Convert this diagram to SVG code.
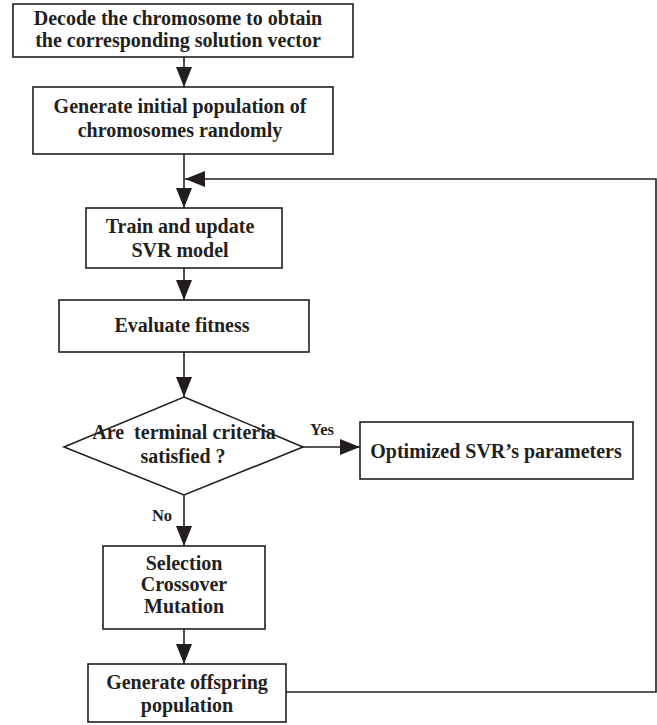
<svg xmlns="http://www.w3.org/2000/svg" width="657" height="725" viewBox="0 0 657 725">
<defs>
<style>
.box{fill:#fff;stroke:#231f20;stroke-width:1.6}
.t{font-family:"Liberation Serif","Times New Roman",serif;font-weight:bold;font-size:20px;fill:#231f20;text-anchor:middle;white-space:pre}
.s{font-family:"Liberation Serif","Times New Roman",serif;font-weight:bold;font-size:16.5px;fill:#231f20;text-anchor:middle}
.c{fill:none;stroke:#231f20;stroke-width:1.6}
</style>
<marker id="ah" viewBox="0 0 20 16" refX="20" refY="8" markerWidth="20" markerHeight="16" markerUnits="userSpaceOnUse" orient="auto">
<path d="M0,0 L20,8 L0,16 Z" fill="#231f20"/>
</marker>
</defs>
<rect width="657" height="725" fill="#fff"/>
<g id="connectors">
<path class="c" d="M184,57 V87" marker-end="url(#ah)"/>
<path class="c" d="M184,154 V208" marker-end="url(#ah)"/>
<path class="c" d="M184,268 V300" marker-end="url(#ah)"/>
<path class="c" d="M184,352 V397" marker-end="url(#ah)"/>
<path class="c" d="M303,447 H360" marker-end="url(#ah)"/>
<path class="c" d="M184,495 V546" marker-end="url(#ah)"/>
<path class="c" d="M184,629 V664" marker-end="url(#ah)"/>
<path class="c" d="M286,692 H656 V179 H185" marker-end="url(#ah)"/>
<text class="s" x="322" y="435">Yes</text>
<text class="s" x="162" y="521">No</text>
</g>
<g id="decode">
<rect class="box" x="13" y="4" width="340" height="53"/>
<text class="t" x="178" y="25">Decode the chromosome to obtain</text>
<text class="t" x="178" y="47">the corresponding solution vector</text>
</g>
<g id="init">
<rect class="box" x="33" y="87" width="300" height="67"/>
<text class="t" x="180" y="113">Generate initial population of</text>
<text class="t" x="180" y="137">chromosomes randomly</text>
</g>
<g id="train">
<rect class="box" x="86" y="208" width="196" height="60"/>
<text class="t" x="180" y="233">Train and update</text>
<text class="t" x="180" y="257">SVR model</text>
</g>
<g id="evaluate">
<rect class="box" x="59" y="300" width="250" height="52"/>
<text class="t" x="182" y="332">Evaluate fitness</text>
</g>
<g id="decision">
<polygon class="box" points="184,397 303,447 184,495 64,447"/>
<text class="t" x="184" y="439">Are  terminal criteria</text>
<text class="t" x="183" y="463">satisfied ?</text>
</g>
<g id="optimized">
<rect class="box" x="360" y="422" width="273" height="57"/>
<text class="t" x="496" y="458">Optimized SVR’s parameters</text>
</g>
<g id="genetic">
<rect class="box" x="103" y="546" width="162" height="83"/>
<text class="t" x="184" y="570">Selection</text>
<text class="t" x="184" y="591">Crossover</text>
<text class="t" x="184" y="613">Mutation</text>
</g>
<g id="offspring">
<rect class="box" x="88" y="664" width="198" height="58"/>
<text class="t" x="187" y="689">Generate offspring</text>
<text class="t" x="187" y="712">population</text>
</g>
</svg>
